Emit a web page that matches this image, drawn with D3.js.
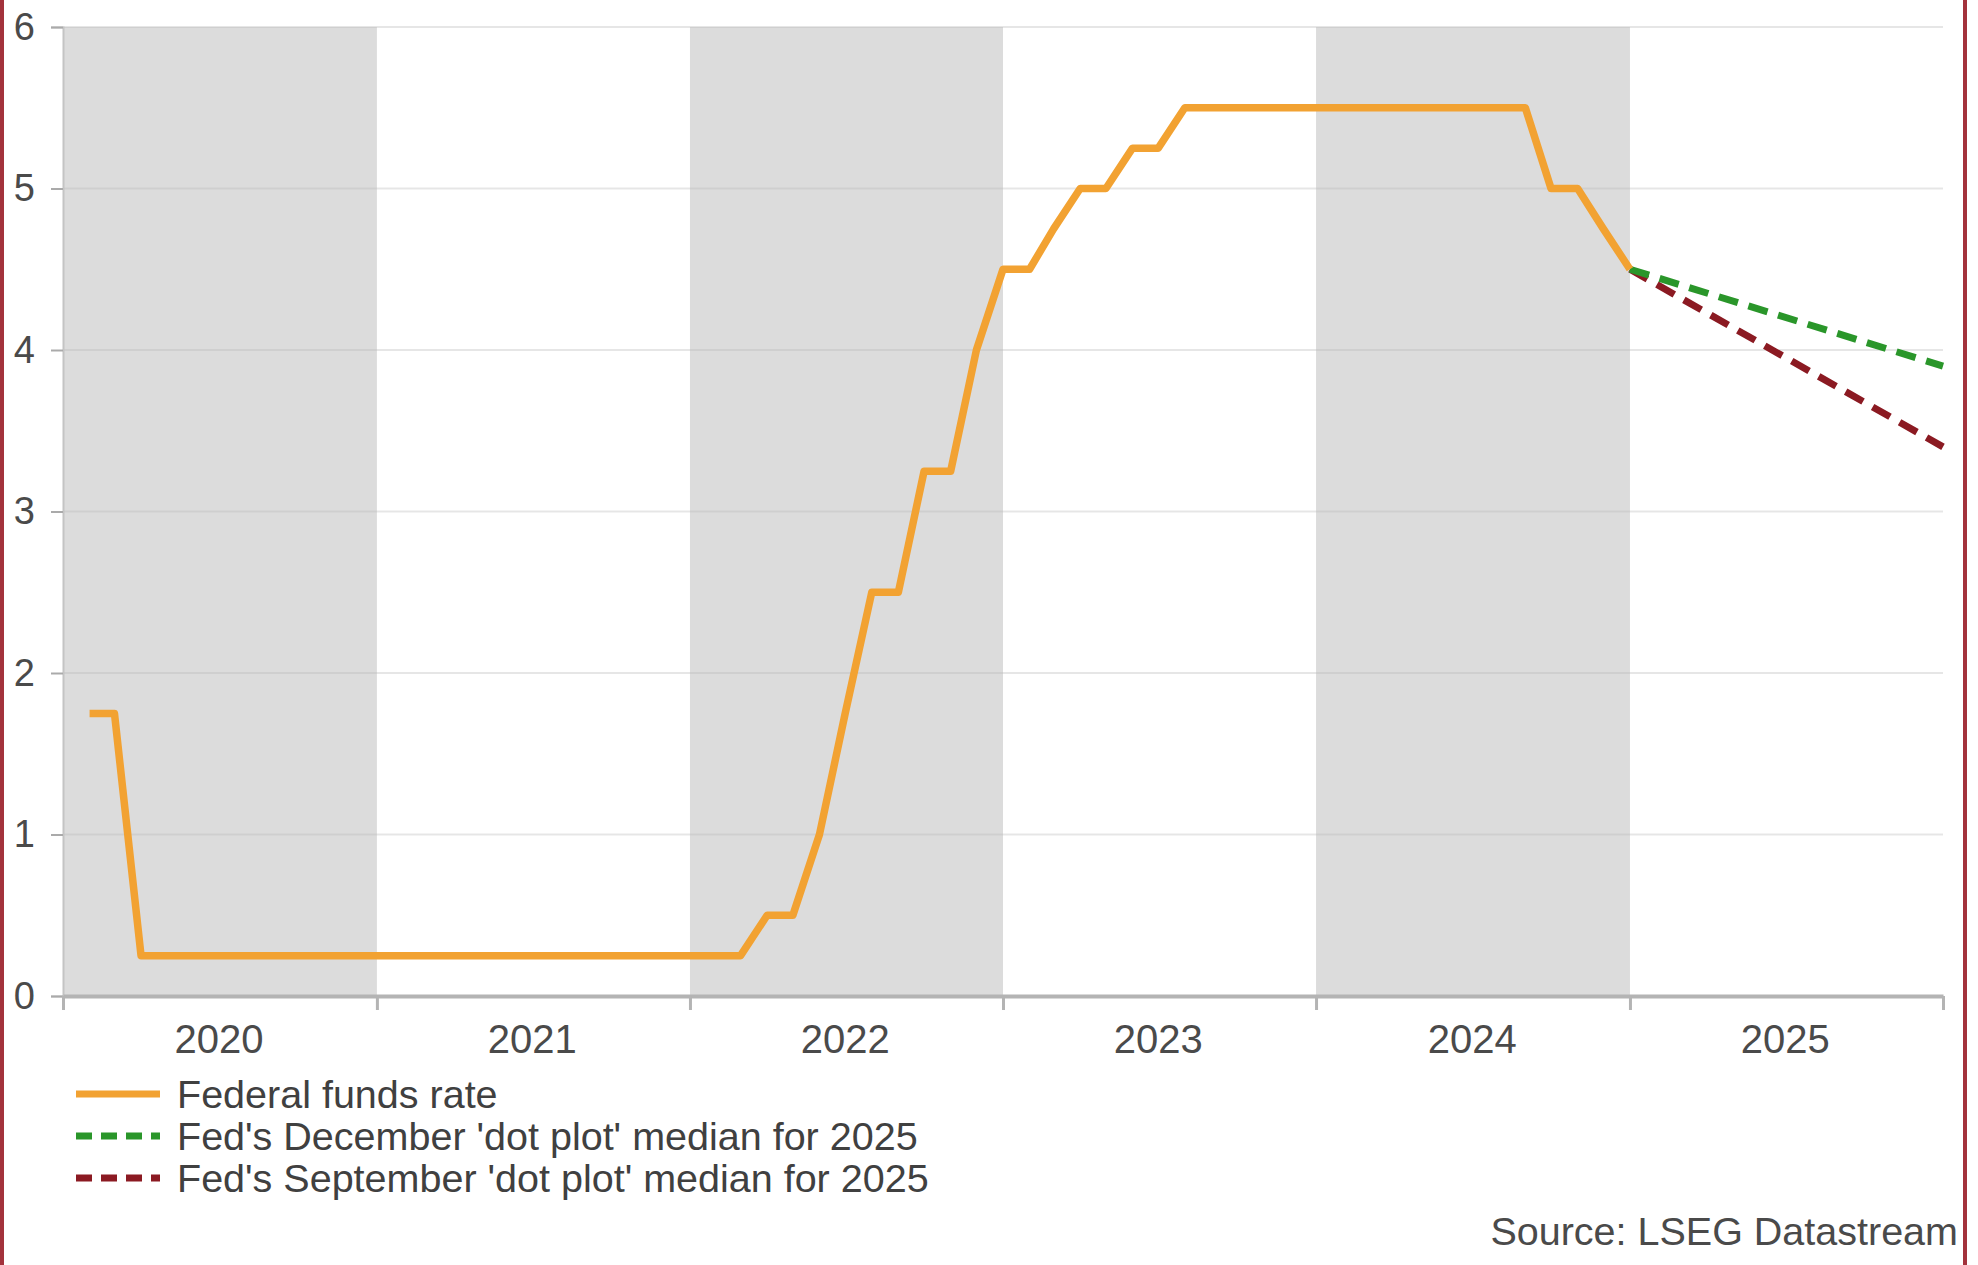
<!DOCTYPE html>
<html>
<head>
<meta charset="utf-8">
<script src="https://cdn.jsdelivr.net/npm/d3@7"></script>
<style>
	html, body { margin: 0; padding: 0; background: #fff; }
	svg { display: block; font-family: "Liberation Sans", Arial, sans-serif; }
</style>
</head>
<body>
<svg id="chart" width="1978" height="1265"></svg>
<script>
// month-end values of the fed funds rate (upper bound)
var rateMonths = [
	'2020-01','2020-02','2020-03','2020-04','2020-05','2020-06','2020-07','2020-08','2020-09','2020-10','2020-11','2020-12',
	'2021-01','2021-02','2021-03','2021-04','2021-05','2021-06','2021-07','2021-08','2021-09','2021-10','2021-11','2021-12',
	'2022-01','2022-02','2022-03','2022-04','2022-05','2022-06','2022-07','2022-08','2022-09','2022-10','2022-11','2022-12',
	'2023-01','2023-02','2023-03','2023-04','2023-05','2023-06','2023-07','2023-08','2023-09','2023-10','2023-11','2023-12',
	'2024-01','2024-02','2024-03','2024-04','2024-05','2024-06','2024-07','2024-08','2024-09','2024-10','2024-11','2024-12'
];
var rateValues = [
	1.75, 1.75, 0.25, 0.25, 0.25, 0.25, 0.25, 0.25, 0.25, 0.25, 0.25, 0.25,
	0.25, 0.25, 0.25, 0.25, 0.25, 0.25, 0.25, 0.25, 0.25, 0.25, 0.25, 0.25,
	0.25, 0.25, 0.5, 0.5, 1.0, 1.75, 2.5, 2.5, 3.25, 3.25, 4.0, 4.5,
	4.5, 4.75, 5.0, 5.0, 5.25, 5.25, 5.5, 5.5, 5.5, 5.5, 5.5, 5.5,
	5.5, 5.5, 5.5, 5.5, 5.5, 5.5, 5.5, 5.5, 5.0, 5.0, 4.75, 4.5
];

// dot plot projections, from end 2024 to end 2025
var projMonths = ['2024-12', '2025-12'];
var decemberDots = [4.5, 3.9];
var septemberDots = [4.5, 3.4];

var years = [2020, 2021, 2022, 2023, 2024, 2025];
var shadedYears = [2020, 2022, 2024];
var yTicks = [0, 1, 2, 3, 4, 5, 6];

var legendLabels = [
	'Federal funds rate',
	"Fed's December 'dot plot' median for 2025",
	"Fed's September 'dot plot' median for 2025"
];
var sourceText = 'Source: LSEG Datastream';

const svg = d3.select('#chart');
const margin = {top: 27, right: 35, bottom: 269, left: 63};
const width = 1978, height = 1265;

const parseMonth = d3.timeParse('%Y-%m');
// values are plotted at the end of their month
const monthEnd = s => d3.timeMonth.offset(parseMonth(s), 1);

const x = d3.scaleTime()
	.domain([new Date(2020, 0, 1), new Date(2026, 0, 1)])
	.range([margin.left, width - margin.right]);

const y = d3.scaleLinear()
	.domain([0, 6])
	.range([height - margin.bottom, margin.top]);

// shaded years
svg.append('g').selectAll('rect').data(shadedYears).enter().append('rect')
	.attr('x', d => x(new Date(d, 0, 1)))
	.attr('y', y(6))
	.attr('width', d => x(new Date(d + 1, 0, 1)) - x(new Date(d, 0, 1)))
	.attr('height', y(0) - y(6))
	.attr('fill', '#dcdcdc');

// grid
svg.append('g').selectAll('line').data(yTicks.filter(t => t > 0)).enter().append('line')
	.attr('x1', x.range()[0]).attr('x2', x.range()[1])
	.attr('y1', d => y(d)).attr('y2', d => y(d))
	.attr('stroke', '#b8b8b8')
	.attr('stroke-opacity', 0.35)
	.attr('stroke-width', 2);

// y axis
const yAxis = g => g
	.attr('transform', `translate(${margin.left}, 0)`)
	.call(d3.axisLeft(y).tickValues(yTicks).tickFormat(d3.format('d')).tickSize(12).tickPadding(16))
	.call(g => g.select('.domain').attr('stroke', '#c4c4c4').attr('stroke-width', 2))
	.call(g => g.selectAll('.tick line').attr('stroke', '#aaa').attr('stroke-width', 2))
	.call(g => g.selectAll('text')
		.attr('fill', '#4a4a4a')
		.style('font-size', '38px'));
svg.append('g').call(yAxis);

// x axis: ticks on year boundaries, labels centred in each year
const yearStarts = years.map(d => new Date(d, 0, 1)).concat([new Date(2026, 0, 1)]);
const xAxis = g => g
	.attr('transform', `translate(0, ${y(0)})`)
	.call(d3.axisBottom(x).tickValues(yearStarts).tickFormat('').tickSize(14).tickSizeOuter(0))
	.call(g => g.select('.domain').attr('stroke', '#b4b4b4').attr('stroke-width', 4))
	.call(g => g.selectAll('.tick line').attr('stroke', '#b4b4b4').attr('stroke-width', 3));
svg.append('g').call(xAxis);

svg.append('g').selectAll('text').data(years).enter().append('text')
	.attr('x', d => x(new Date(d, 6, 1)))
	.attr('y', y(0) + 57)
	.attr('text-anchor', 'middle')
	.attr('fill', '#4a4a4a')
	.style('font-size', '40px')
	.text(d => d);

// lines
const line = d3.line()
	.x(d => x(monthEnd(d.m)))
	.y(d => y(d.v));

const rateData = rateMonths.map((m, i) => ({m: m, v: rateValues[i]}));
const decData = projMonths.map((m, i) => ({m: m, v: decemberDots[i]}));
const sepData = projMonths.map((m, i) => ({m: m, v: septemberDots[i]}));

svg.append('path').datum(sepData)
	.attr('d', line)
	.attr('fill', 'none')
	.attr('stroke', '#8b1a22')
	.attr('stroke-width', 7)
	.attr('stroke-dasharray', '20 11');

svg.append('path').datum(decData)
	.attr('d', line)
	.attr('fill', 'none')
	.attr('stroke', '#2a962a')
	.attr('stroke-width', 7)
	.attr('stroke-dasharray', '20 11');

svg.append('path').datum(rateData)
	.attr('d', line)
	.attr('fill', 'none')
	.attr('stroke', '#f2a232')
	.attr('stroke-width', 7.5)
	.attr('stroke-linejoin', 'round');

// legend
const legendStyles = [
	{color: '#f2a232', dash: null},
	{color: '#2a962a', dash: '16 9'},
	{color: '#8b1a22', dash: '16 9'}
];
const legend = svg.append('g');
legendLabels.forEach((label, i) => {
	const ly = 1094 + i * 42;
	legend.append('line')
		.attr('x1', 76).attr('x2', 160)
		.attr('y1', ly).attr('y2', ly)
		.attr('stroke', legendStyles[i].color)
		.attr('stroke-width', 7)
		.attr('stroke-dasharray', legendStyles[i].dash);
	legend.append('text')
		.attr('x', 177)
		.attr('y', ly + 14)
		.attr('fill', '#404040')
		.style('font-size', '39.5px')
		.text(label);
});

svg.append('text')
	.attr('x', 1958)
	.attr('y', 1245)
	.attr('text-anchor', 'end')
	.attr('fill', '#4a4a4a')
	.style('font-size', '39.5px')
	.text(sourceText);

// frame edges
svg.append('line').attr('x1', 2).attr('x2', 2).attr('y1', 0).attr('y2', height)
	.attr('stroke', '#a3323c').attr('stroke-width', 4);
svg.append('line').attr('x1', 1965).attr('x2', 1965).attr('y1', 0).attr('y2', height)
	.attr('stroke', '#a3323c').attr('stroke-width', 4);
</script>
</body>
</html>
